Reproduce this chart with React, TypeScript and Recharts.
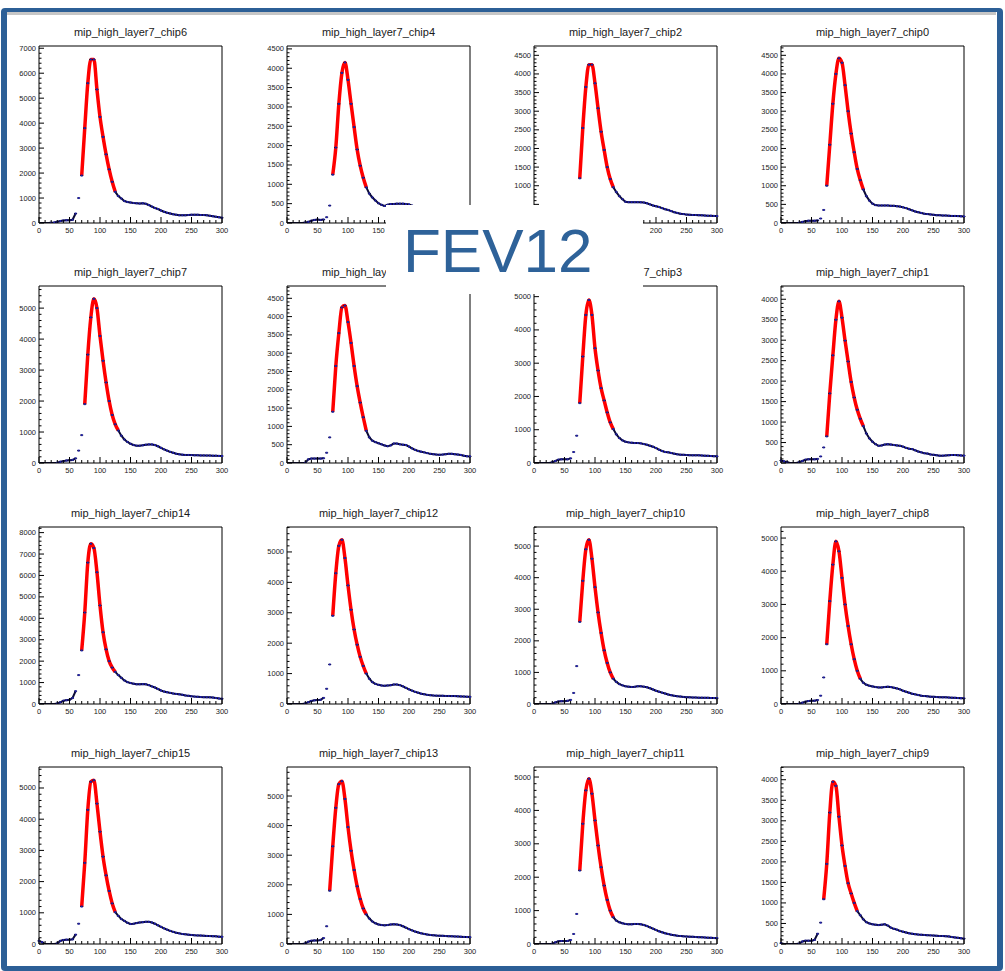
import React from "react";
import { ComposedChart, Line, XAxis, YAxis, ReferenceLine } from "recharts";

// bin centres shared by every histogram
const BINS = [0,5,10,15,20,25,30,35,40,45,50,55,60,65,70,75,80,85,90,95,100,105,110,115,120,125,130,135,140,145,150,155,160,165,170,175,180,185,190,195,200,205,210,215,220,225,230,235,240,245,250,255,260,265,270,275,280,285,290,295,300];
const X_TICKS = [0,10,20,30,40,50,60,70,80,90,100,110,120,130,140,150,160,170,180,190,200,210,220,230,240,250,260,270,280,290,300];

const CHIP6 = [0,0,0,0,10,20,50,80,100,110, 110,130,380,1000,1900,3800,5600,6550,6550,5350, 4250,3450,2750,2150,1650,1250,1080,980,880,840, 820,800,790,780,790,770,720,660,600,560, 500,450,410,380,350,330,310,310,310,320, 330,330,330,320,320,310,290,270,250,230, 210];
const CHIP4 = [0,0,0,0,0,0,10,30,60,80, 90,80,90,150,450,1250,1950,3080,3880,4150, 3700,3080,2480,1900,1480,1170,920,760,660,580, 510,470,440,470,490,490,500,500,500,490, 480,450,420,390,360,330,300,280,270,260, 250,250,240,240,230,230,220,210,200,190, 180];
const CHIP2 = [0,0,0,0,0,0,10,40,60,70, 70,70,80,150,400,1200,2550,3650,4250,4250, 3750,3080,2450,1960,1500,1180,960,830,720,640, 570,560,560,560,560,555,550,530,500,470, 450,430,400,370,350,320,290,270,250,240, 225,220,215,215,210,205,200,195,195,190, 185];
const CHIP0 = [0,0,0,0,0,0,10,30,50,60, 60,60,70,120,350,1000,2100,3200,4000,4420, 4300,3700,3000,2400,1900,1450,1150,900,720,600, 520,480,470,470,470,470,460,460,450,440, 420,400,370,340,310,290,270,250,240,230, 220,210,210,200,200,195,190,190,185,180, 175];
const CHIP7 = [0,0,0,0,0,0,10,40,60,80, 90,100,150,400,900,1900,3500,4700,5300,5000, 4100,3300,2600,2000,1550,1250,1050,880,760,680, 620,580,560,560,570,590,600,600,580,540, 490,440,400,360,330,300,280,270,260,260, 255,250,250,245,245,240,240,235,235,230, 225];
const CHIP5 = [0,0,0,0,0,0,10,100,120,120, 120,120,130,280,700,1400,2650,3550,4250,4300, 3850,3280,2650,2100,1650,1250,880,700,610,570, 540,510,480,460,480,530,530,510,500,490, 450,400,360,330,310,290,270,250,240,230, 225,230,240,250,250,240,230,220,200,185, 180];
const CHIP3 = [0,0,0,0,0,0,20,60,100,110, 110,110,140,330,820,1800,3200,4450,4900,4450, 3450,2780,2250,1880,1520,1220,1020,860,750,680, 640,620,610,600,600,590,570,550,520,490, 450,400,360,330,320,300,280,260,250,245, 240,235,230,230,230,225,220,215,210,205, 200];
const CHIP1 = [60,40,20,0,0,0,20,50,80,90, 90,90,100,160,380,650,1700,2630,3500,3950, 3550,2990,2480,1980,1600,1300,1080,900,720,600, 520,460,420,430,450,460,450,440,430,420, 400,370,350,340,310,280,260,240,230,210, 200,190,180,180,185,190,195,195,190,185, 180];
const CHIP14 = [0,0,0,0,0,0,20,80,150,180, 200,280,600,1350,2500,4270,6600,7480,7280,6150, 4600,3350,2550,2000,1700,1500,1350,1220,1100,1020, 980,950,920,920,930,920,880,820,770,700, 630,580,550,520,490,470,450,430,400,380, 360,345,335,325,320,315,310,300,280,260, 245];
const CHIP12 = [0,0,0,0,0,0,20,60,100,120, 130,140,200,500,1300,2900,4300,5200,5400,4800, 3900,3100,2450,1950,1550,1250,1000,830,720,660, 630,610,600,610,620,640,640,620,580,530, 480,440,400,370,340,320,300,290,280,275, 270,270,265,265,260,260,255,250,245,240, 235];
const CHIP10 = [0,0,0,0,0,0,10,50,80,90, 90,100,130,350,1200,2600,3900,4900,5200,4600, 3700,2900,2250,1700,1300,1000,800,700,630,590, 560,550,540,545,560,560,550,530,500,460, 420,390,360,330,300,280,260,245,235,225, 215,210,205,205,200,200,195,195,190,190, 185];
const CHIP8 = [0,0,0,0,0,0,10,40,70,90, 100,100,120,250,800,1800,3100,4200,4900,4600, 3800,3000,2350,1800,1350,1000,760,640,580,550, 530,510,500,500,510,520,510,490,470,440, 400,370,340,310,290,270,250,240,230,220, 215,210,205,200,200,195,190,185,180,175, 170];
const CHIP15 = [100,60,0,0,0,0,20,100,130,140, 140,150,300,650,1200,2600,4300,5200,5250,4500, 3600,2800,2200,1700,1300,1020,900,800,740,680, 640,650,670,690,700,710,710,690,650,600, 550,500,460,420,390,360,340,320,310,300, 290,280,275,270,265,260,255,250,245,235, 230];
const CHIP13 = [0,0,0,0,0,0,20,80,110,120, 120,130,200,600,1800,3300,4600,5400,5500,4900, 3950,3150,2500,1950,1520,1200,1000,860,760,700, 660,640,630,640,660,670,660,640,600,550, 500,460,420,390,360,340,320,305,295,285, 280,275,270,265,260,255,250,245,240,235, 230];
const CHIP11 = [0,0,0,0,0,0,10,50,80,90, 90,90,120,300,900,2200,3600,4600,4950,4500, 3700,2950,2300,1750,1320,1000,800,700,650,620, 600,590,590,600,600,590,570,540,500,460, 420,380,350,320,300,280,265,250,240,230, 225,220,215,210,205,200,195,190,185,180, 175];
const CHIP9 = [20,0,0,0,0,0,10,60,80,80, 80,100,250,520,1090,1950,3200,3950,3850,3100, 2400,1900,1480,1230,1000,800,700,600,530,500, 480,470,460,470,480,450,400,370,350,320, 300,280,260,250,240,230,225,220,215,210, 205,200,195,195,190,185,170,160,150,140, 130];

// pads in reading order, four per row
const COUNTS = [CHIP6, CHIP4, CHIP2, CHIP0, CHIP7, CHIP5, CHIP3, CHIP1, CHIP14, CHIP12, CHIP10, CHIP8, CHIP15, CHIP13, CHIP11, CHIP9];
const TITLES = [
  "mip_high_layer7_chip6", "mip_high_layer7_chip4", "mip_high_layer7_chip2", "mip_high_layer7_chip0",
  "mip_high_layer7_chip7", "mip_high_layer7_chip5", "mip_high_layer7_chip3", "mip_high_layer7_chip1",
  "mip_high_layer7_chip14", "mip_high_layer7_chip12", "mip_high_layer7_chip10", "mip_high_layer7_chip8",
  "mip_high_layer7_chip15", "mip_high_layer7_chip13", "mip_high_layer7_chip11", "mip_high_layer7_chip9",
];
const Y_MAX = [7090, 4575, 4750, 4750, 5714, 4836, 5320, 4324, 8262, 5820, 5605, 5333, 5673, 5980, 5300, 4310];
const Y_STEP = [1000, 500, 500, 500, 1000, 500, 1000, 500, 1000, 1000, 1000, 1000, 1000, 1000, 1000, 500];
const FIT_FROM = [70, 75, 75, 75, 75, 75, 75, 75, 70, 75, 75, 75, 70, 70, 75, 70];
const FIT_TO = [125, 130, 130, 135, 130, 130, 130, 135, 125, 130, 130, 130, 125, 130, 130, 125];

const COL_LEFT = [39, 287, 534, 781];
const ROW_TOP = [46, 286, 527, 767];
const PLOT_W = 183;
const PLOT_H = 177;

// white label box pasted over the middle of the canvas
const BOX = { left: 386, top: 205, width: 257, height: 89 };

const FONT = '"Liberation Sans", Arial, Helvetica, sans-serif';
const BLUE = "#2c5f96";

function underBox(x0: number, y0: number, x1: number, y1: number) {
  return x1 > BOX.left && x0 < BOX.left + BOX.width && y1 > BOX.top && y0 < BOX.top + BOX.height;
}

let measureCtx: CanvasRenderingContext2D | null = null;
function textWidth(s: string) {
  if (!measureCtx) measureCtx = document.createElement("canvas").getContext("2d");
  if (!measureCtx) return s.length * 5.4;
  measureCtx.font = `11px ${FONT}`;
  return measureCtx.measureText(s).width;
}

function makeXTick(offX: number, offY: number) {
  return (props: any) => {
    const { x, y, payload } = props;
    const v = payload.value;
    const major = v % 50 === 0;
    const ax = offX + x;
    const ay = offY + y;
    const hidden = underBox(ax - 6, ay + 3, ax + 6, ay + 11);
    return (
      <g>
        <line x1={x} x2={x} y1={y} y2={y - (major ? 6 : 3)} stroke="#000" strokeWidth={1} />
        {major && !hidden && (
          <text x={x} y={y + 9.5} textAnchor="middle" fontSize={7.5} fill="#222" fontFamily={FONT}>
            {v}
          </text>
        )}
      </g>
    );
  };
}

function makeYTick(step: number, offX: number, offY: number) {
  return (props: any) => {
    const { x, y, payload } = props;
    const v = payload.value;
    const major = Math.round(v) % step === 0;
    const ax = offX + x;
    const ay = offY + y;
    const hidden = underBox(ax - 20, ay - 2, ax - 3, ay + 2);
    return (
      <g>
        <line x1={x} x2={x + (major ? 5 : 2.5)} y1={y} y2={y} stroke="#000" strokeWidth={1} />
        {major && !hidden && (
          <text x={x - 3} y={y + 2.5} textAnchor="end" fontSize={7.5} fill="#222" fontFamily={FONT}>
            {v}
          </text>
        )}
      </g>
    );
  };
}

const renderDot = (p: any) => {
  const { cx, cy, index, payload } = p;
  if (cy == null || !payload || !payload.y) return <g key={index} />;
  return (
    <g key={index}>
      <line x1={cx - 1.5} x2={cx + 1.5} y1={cy} y2={cy} stroke="#000" strokeWidth={1} />
      <rect x={cx - 1} y={cy - 1} width={2} height={2} fill="#1f1fa8" />
    </g>
  );
};

// pad title; only the part not covered by the white label box is drawn
function Title({ text, left, top }: { text: string; left: number; top: number }) {
  const full = textWidth(text);
  const x0 = left + PLOT_W / 2 - full / 2;
  let shown = text;
  let sx = x0;
  if (underBox(x0, top, x0 + full, top + 13)) {
    if (x0 < BOX.left) {
      let n = text.length;
      while (n > 0 && x0 + textWidth(text.slice(0, n)) > BOX.left + 2) n--;
      shown = text.slice(0, n);
    } else {
      let n = 0;
      while (n < text.length && x0 + textWidth(text.slice(0, n)) < BOX.left + BOX.width - 1) n++;
      shown = text.slice(n);
      sx = x0 + textWidth(text.slice(0, n));
    }
  }
  return (
    <div
      style={{
        position: "absolute",
        left: sx,
        top,
        fontSize: 11,
        fontFamily: FONT,
        color: "#1a1a1a",
        whiteSpace: "nowrap",
      }}
    >
      {shown}
    </div>
  );
}

function Panel({ idx }: { idx: number }) {
  const col = idx % 4;
  const row = Math.floor(idx / 4);
  const counts = COUNTS[idx];
  const yMax = Y_MAX[idx];
  const step = Y_STEP[idx];
  const minor = step / 5;
  const yTicks: number[] = [];
  for (let i = 0; i * minor <= yMax; i++) yTicks.push(i * minor);

  const rows = BINS.map((x, i) => ({
    x,
    y: counts[i],
    tail: x <= 60 || x >= FIT_TO[idx] ? counts[i] : null,
    fit: x >= FIT_FROM[idx] && x <= FIT_TO[idx] ? counts[i] : null,
  }));

  const left = COL_LEFT[col];
  const top = ROW_TOP[row];
  const chartLeft = left - 30;
  const chartTop = top - 10;

  return (
    <>
      <Title text={TITLES[idx]} left={left} top={top - 20} />
      <div style={{ position: "absolute", left: chartLeft, top: chartTop }}>
        <ComposedChart
          width={PLOT_W + 40}
          height={PLOT_H + 30}
          data={rows}
          margin={{ top: 10, right: 10, bottom: 0, left: 0 }}
        >
          <XAxis
            dataKey="x"
            type="number"
            domain={[0, 300]}
            ticks={X_TICKS}
            interval={0}
            tickSize={0}
            tickMargin={0}
            height={20}
            axisLine={{ stroke: "#000" }}
            tickLine={false}
            tick={makeXTick(chartLeft, chartTop)}
          />
          <YAxis
            type="number"
            domain={[0, yMax]}
            ticks={yTicks}
            interval={0}
            tickSize={0}
            tickMargin={0}
            width={30}
            axisLine={{ stroke: "#000" }}
            tickLine={false}
            tick={makeYTick(step, chartLeft, chartTop)}
            allowDataOverflow
          />
          <ReferenceLine y={yMax} stroke="#000" strokeWidth={1} ifOverflow="visible" />
          <ReferenceLine x={300} stroke="#000" strokeWidth={1} ifOverflow="visible" />
          <Line
            dataKey="tail"
            type="linear"
            stroke="#0c0c38"
            strokeWidth={2}
            dot={false}
            activeDot={false}
            connectNulls={false}
            isAnimationActive={false}
          />
          <Line
            dataKey="y"
            stroke="none"
            dot={renderDot}
            activeDot={false}
            isAnimationActive={false}
          />
          <Line
            dataKey="fit"
            type="monotone"
            stroke="#ff0000"
            strokeWidth={3.5}
            dot={false}
            activeDot={false}
            connectNulls={false}
            isAnimationActive={false}
          />
        </ComposedChart>
      </div>
    </>
  );
}

export default function App() {
  return (
    <div style={{ position: "absolute", left: 0, top: 0, width: 1005, height: 971, background: "#fff", overflow: "hidden" }}>
      <div
        style={{
          position: "absolute",
          left: 1,
          top: 8,
          width: 1002,
          height: 963,
          boxSizing: "border-box",
          borderStyle: "solid",
          borderColor: BLUE,
          borderWidth: "4px 6px 5px 6px",
          borderRadius: 4,
          background: "#fff",
        }}
      />
      <div style={{ position: "absolute", left: 7, top: 12, width: 989, height: 3, background: "#c6c6c6" }} />
      {COUNTS.map((_, i) => (
        <Panel key={i} idx={i} />
      ))}
      <div
        style={{
          position: "absolute",
          left: BOX.left,
          top: BOX.top,
          width: BOX.width,
          height: BOX.height,
          background: "#fff",
          zIndex: 10,
        }}
      >
        <div
          style={{
            position: "absolute",
            left: 17,
            top: 14.5,
            fontSize: 62,
            lineHeight: "62px",
            fontFamily: FONT,
            color: "#2e6299",
            whiteSpace: "nowrap",
          }}
        >
          FEV12
        </div>
      </div>
    </div>
  );
}
